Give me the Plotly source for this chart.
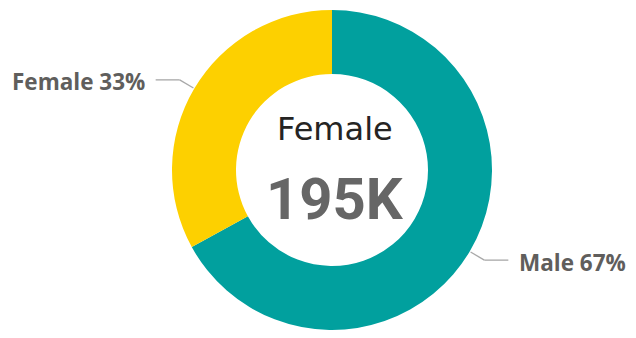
import math
import plotly.graph_objects as go

# Data
categories = ["Male", "Female"]
values = [396000, 195000]
colors = ["#01A09E", "#FDD000"]
center_category = "Female"
center_value_label = "195K"

# Layout constants (pixels)
W, H = 636, 338
CX, CY, R = 332, 170, 160
HOLE = 0.6

def to_paper(px, py):
    return px / W, 1 - py / H

x0, y1 = to_paper(CX - R, CY - R)
x1, y0 = to_paper(CX + R, CY + R)

fig = go.Figure(go.Pie(
    labels=categories,
    values=values,
    marker=dict(colors=colors, line=dict(width=0)),
    hole=HOLE,
    sort=False,
    direction="clockwise",
    rotation=0,
    textinfo="none",
    hoverinfo="label+percent+value",
    domain=dict(x=[x0, x1], y=[y0, y1]),
    showlegend=False,
))

total = sum(values)
shapes = []
annotations = []
cum = 0
for cat, val in zip(categories, values):
    frac = val / total
    mid = (cum + frac / 2) * 360  # degrees clockwise from 12 o'clock
    cum += frac
    theta = math.radians(90 - mid)
    ux, uy = math.cos(theta), -math.sin(theta)  # pixel direction (y down)
    p0 = (CX + (R + 1) * ux, CY + (R + 1) * uy)
    p1 = (CX + (R + 17) * ux, CY + (R + 17) * uy)
    side = 1 if ux > 0 else -1
    p2 = (p1[0] + side * 24, p1[1])
    for a, b in ((p0, p1), (p1, p2)):
        ax, ay = to_paper(*a)
        bx, by = to_paper(*b)
        shapes.append(dict(type="line", xref="paper", yref="paper",
                           x0=ax, y0=ay, x1=bx, y1=by,
                           line=dict(color="#A8A8A8", width=1.3)))
    tx, ty = to_paper(p2[0] + side * 9, p2[1] + 2)
    annotations.append(dict(
        x=tx, y=ty, xref="paper", yref="paper",
        text=f"{cat} {round(frac * 100)}%",
        showarrow=False,
        xanchor="left" if side > 0 else "right",
        yanchor="middle",
        font=dict(family="Open Sans", size=22.5, color="#605E5C", weight="bold"),
    ))

# Center text
cx_p, _ = to_paper(CX + 3, CY)
annotations.append(dict(
    x=cx_p, y=to_paper(0, 129)[1], xref="paper", yref="paper",
    text=center_category, showarrow=False, xanchor="center", yanchor="middle",
    font=dict(family="DejaVu Sans", size=32, color="#252423"),
))
annotations.append(dict(
    x=cx_p, y=to_paper(0, 199)[1], xref="paper", yref="paper",
    text=center_value_label, showarrow=False, xanchor="center", yanchor="middle",
    font=dict(family="Roboto", size=58, color="#666666", weight="bold"),
))

fig.update_layout(
    width=W, height=H,
    margin=dict(l=0, r=0, t=0, b=0),
    paper_bgcolor="white",
    plot_bgcolor="white",
    shapes=shapes,
    annotations=annotations,
)

fig.write_html("out.html", config={"displayModeBar": False})
